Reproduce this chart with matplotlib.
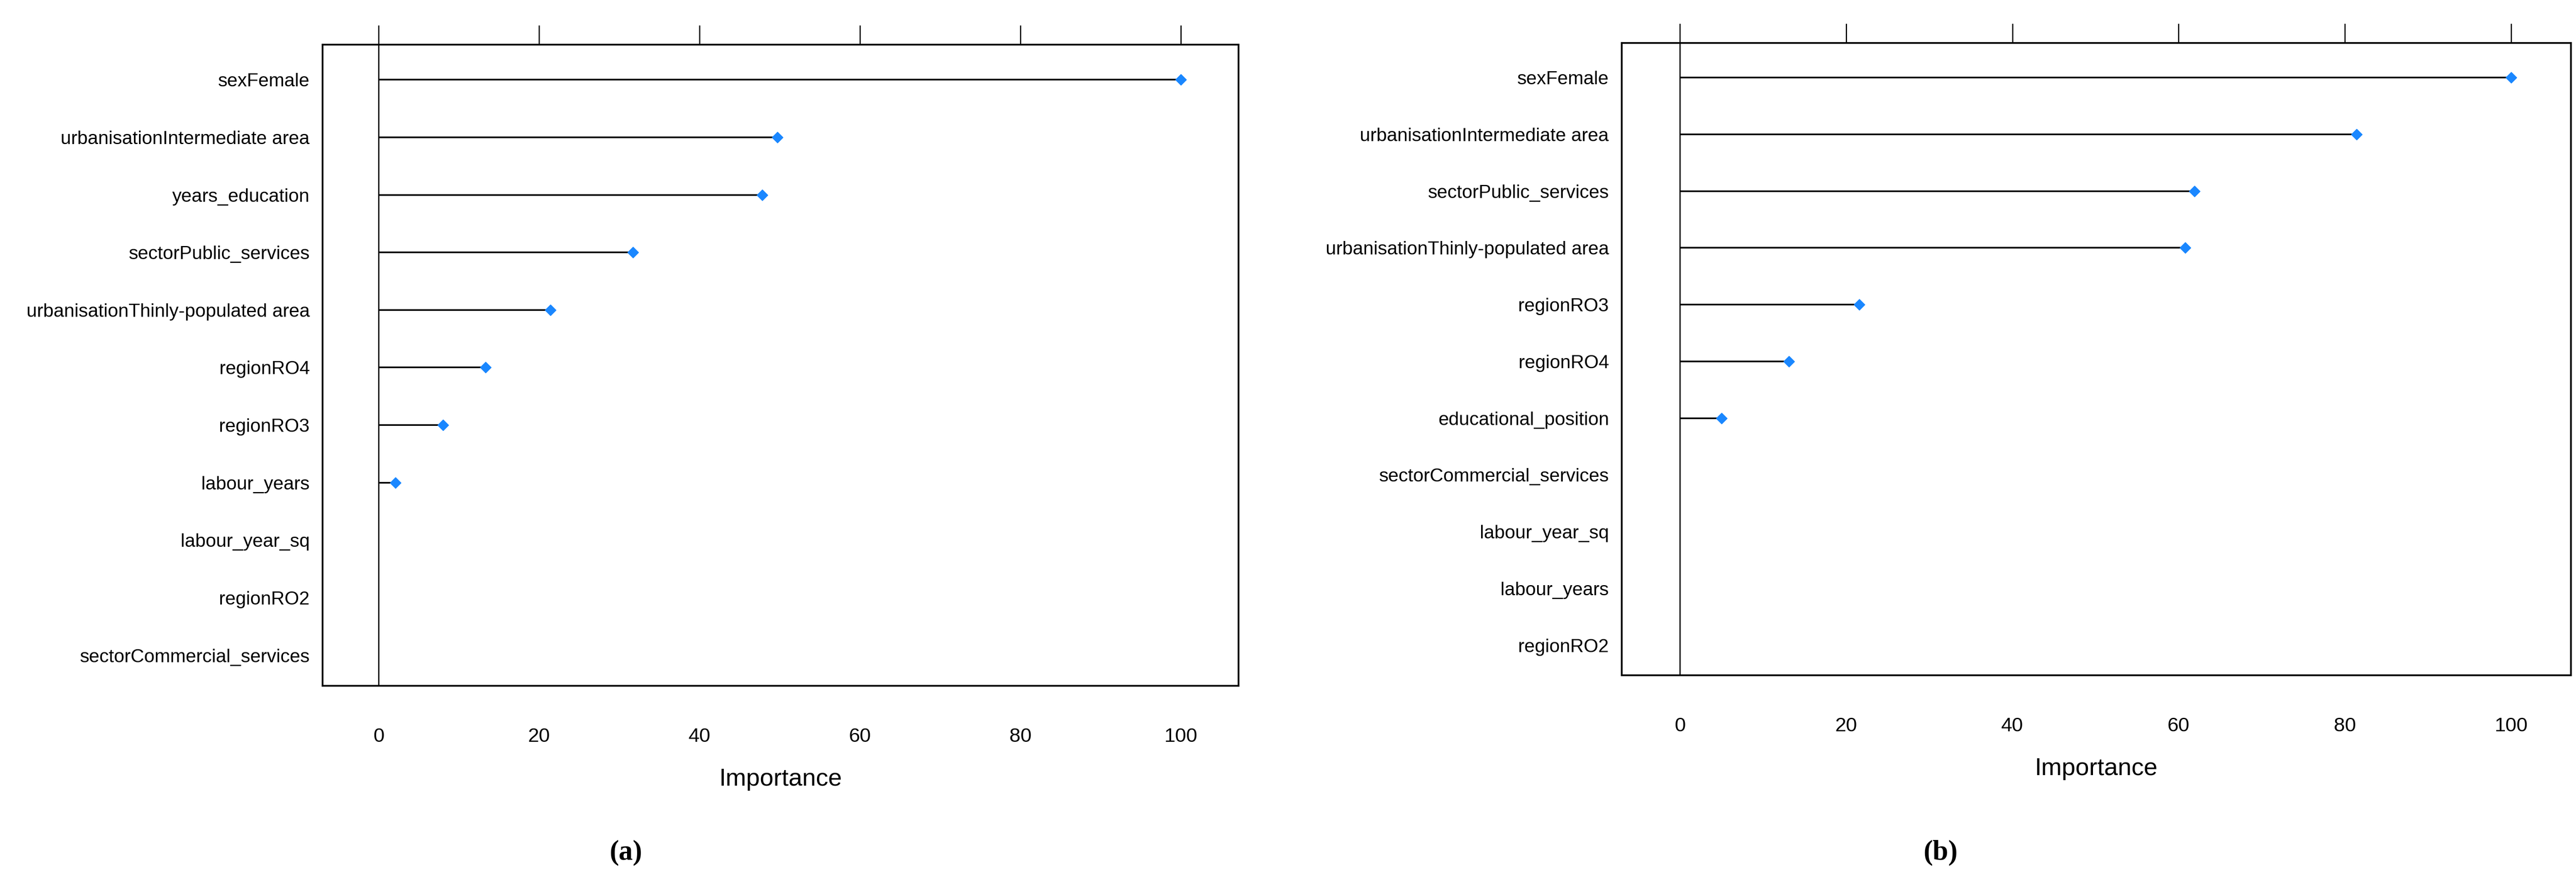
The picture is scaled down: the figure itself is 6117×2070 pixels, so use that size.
import matplotlib
matplotlib.use("Agg")
import matplotlib.pyplot as plt

labels_a = ["sexFemale", "urbanisationIntermediate area", "years_education", "sectorPublic_services",
            "urbanisationThinly-populated area", "regionRO4", "regionRO3", "labour_years",
            "labour_year_sq", "regionRO2", "sectorCommercial_services"]
values_a = [100, 49.7, 47.8, 31.7, 21.4, 13.3, 8.0, 2.1, 0, 0, 0]
labels_b = ["sexFemale", "urbanisationIntermediate area", "sectorPublic_services",
            "urbanisationThinly-populated area", "regionRO3", "regionRO4", "educational_position",
            "sectorCommercial_services", "labour_year_sq", "labour_years", "regionRO2"]
values_b = [100, 81.4, 61.9, 60.8, 21.6, 13.1, 5.0, 0, 0, 0, 0]
ticks = [0, 20, 40, 60, 80, 100]

W, H = 6117, 2070
fig = plt.figure(figsize=(W/100, H/100), dpi=100)
font = ["Liberation Sans", "DejaVu Sans"]

def panel(rect, labels, values, letter, lx):
    ax = fig.add_axes(rect)
    n = len(labels)
    ys = list(range(n, 0, -1))
    ax.axvline(0, color="black", lw=2.2)
    for y, v in zip(ys, values):
        if v > 0:
            ax.hlines(y, 0, v, color="black", lw=2.8)
            ax.plot(v, y, marker="D", ms=13, color="#1a87ff", mec="#1a87ff")
    ax.set_xlim(-7, 107.2)
    ax.set_ylim(0.47, n + 0.61)
    ax.set_yticks(ys)
    ax.set_yticklabels(labels, family=font, fontsize=32)
    ax.tick_params(axis="y", length=0, pad=22)
    ax.set_xticks(ticks)
    ax.set_xticklabels([str(t) for t in ticks], family=font, fontsize=34)
    ax.tick_params(axis="x", bottom=False, top=True, direction="out", length=33, width=2, pad=38)
    for s in ax.spines.values():
        s.set_linewidth(3)
    ax.set_xlabel("Importance", family=font, fontsize=42, labelpad=38)
    fig.text(lx / W, 0.022, "(" + letter + ")", family="Liberation Serif", fontsize=48,
             fontweight="bold", ha="center", va="center")
    return ax

panel([766/W, 1 - 1628/H, (2941-766)/W, (1628-106)/H], labels_a, values_a, "a", 1486)
panel([3851/W, 1 - 1603/H, (6105-3851)/W, (1603-102)/H], labels_b, values_b, "b", 4608)
fig.savefig("out.png", dpi=100)
